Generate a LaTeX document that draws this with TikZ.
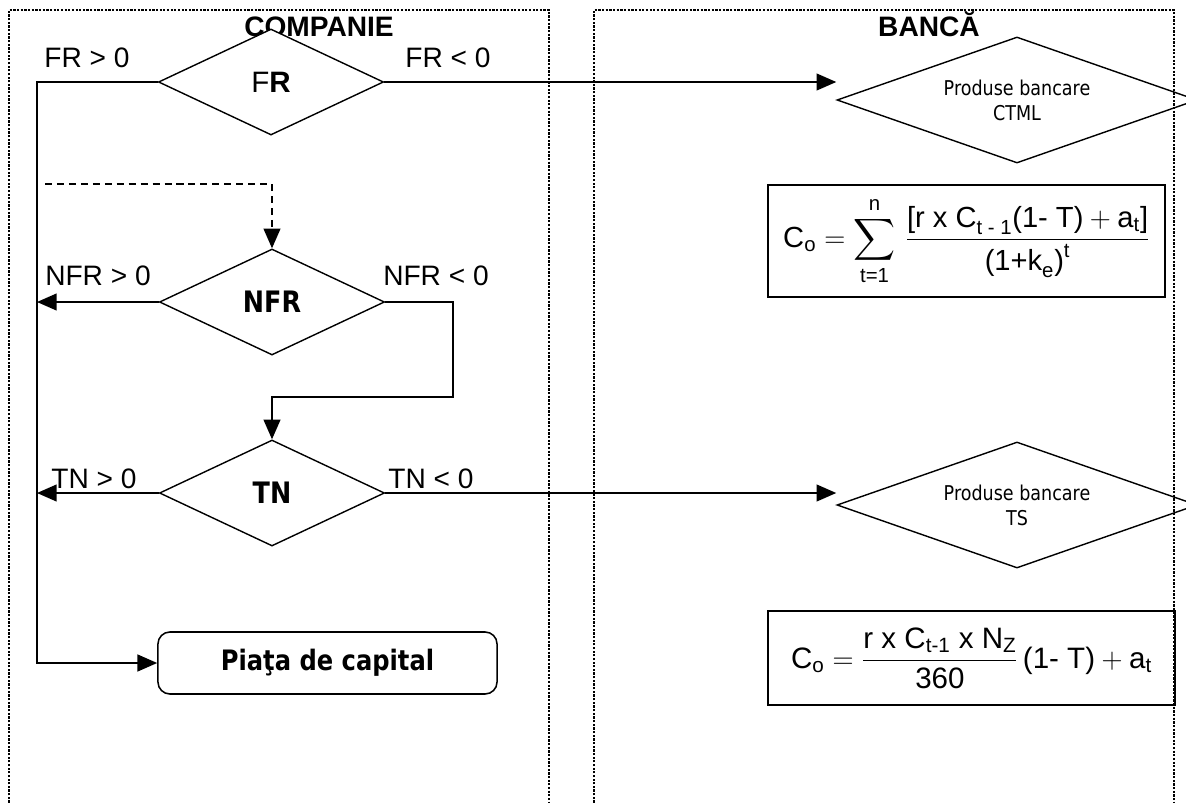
\documentclass[tikz,border=0pt]{standalone}
\usepackage{amsmath}
\usepackage{fontspec}
\setmainfont{Liberation Sans}
\setsansfont{Liberation Sans}
\newfontfamily\tahoma[FakeStretch=0.86]{DejaVu Sans}
\usetikzlibrary{shapes.geometric, arrows.meta, positioning}
\tikzset{
    lane/.style={draw=black, line width=0.8pt, dash pattern=on 1.6pt off 1pt},
    lanetitle/.style={anchor=base, font=\bfseries\fontsize{20}{24}\selectfont},
    condlabel/.style={anchor=base, font=\fontsize{20}{24}\selectfont},
    decision/.style={draw, diamond, aspect=2.12, fill=white, inner sep=0pt, line width=1pt, minimum width=5.625cm, minimum height=2.65cm, font=\tahoma\bfseries\fontsize{21}{25}\selectfont},
    bankdecision/.style={draw, diamond, aspect=2.86, inner sep=0pt, line width=1pt, minimum width=9cm, minimum height=3.15cm, align=center, font=\tahoma\fontsize{14.5}{17.8}\selectfont},
    market/.style={draw, rectangle, rounded corners=8.5pt, line width=1.1pt, minimum width=8.475cm, minimum height=1.55cm, font=\tahoma\bfseries\fontsize{20}{24}\selectfont},
    formula/.style={draw, rectangle, line width=1.4pt, inner sep=0pt},
    arrow/.style={->, >={Triangle[length=14pt, width=12pt]}, line width=1.1pt}
}

\begin{document}
\begin{tikzpicture}[x=0.025cm, y=-0.025cm]
        \clip (0,0) rectangle (1186,803);

        % Culoare
        \draw [lane] (9,810) -- (9,10) -- (549,10) -- (549,810);
        \draw [lane] (594,810) -- (594,10) -- (1174,10) -- (1174,810);
        \node (titlucomp) [lanetitle] at (319,36) {COMPANIE};
        \node (titlubanca) [lanetitle] at (929,36) {BANCĂ};

        % Decizii companie
        \node (fr) [decision, font=\fontsize{21}{25}\selectfont] at (271,82) {F\textbf{R}};
        \node (nfr) [decision] at (272,302) {NFR};
        \node (tn) [decision] at (272,493) {TN};
        \node (piata) [market] at (327.5,663) {Piaţa de capital};

        % Produse bancare si formule
        \node (ctml) [bankdecision] at (1017,100) {Produse bancare\\CTML};
        \node (ts) [bankdecision] at (1017,505) {Produse bancare\\TS};
        \node (formula1) [formula, minimum width=9.925cm, minimum height=2.8cm, font=\fontsize{20.7}{24}\selectfont] at (966.5,241)
            {$\displaystyle \text{C}_\text{o} = \sum_{\text{t=1}}^{\text{n}}\, \frac{\text{[r x C}_{\text{t - 1}}\text{(1- T)} + \text{a}_\text{t}\text{]}}{\text{(1+k}_\text{e}\text{)}^\text{t}}$};
        \node (formula2) [formula, minimum width=10.175cm, minimum height=2.35cm, font=\fontsize{21}{25}\selectfont] at (971.5,658)
            {$\displaystyle \text{C}_\text{o} = \frac{\text{r x C}_\text{t-1}\text{ x N}_\text{Z}}{\text{360}}\,\text{(1- T)} + \text{a}_\text{t}$};

        % Etichete ramuri
        \node (frpoz) [condlabel] at (87,67) {FR > 0};
        \node (frneg) [condlabel] at (448,67) {FR < 0};
        \node (nfrpoz) [condlabel] at (98,285) {NFR > 0};
        \node (nfrneg) [condlabel] at (436,285) {NFR < 0};
        \node (tnpoz) [condlabel] at (94,488) {TN > 0};
        \node (tnneg) [condlabel] at (431,488) {TN < 0};

        % Conexiuni
        \coordinate (bus) at (37,0);
        \coordinate (dashstart) at (45,184);
        \coordinate (elbow) at (453,397);
        \draw [arrow] (fr.west) -| (bus |- piata.west) -- (piata.west);
        \draw [arrow, dash pattern=on 5pt off 3.5pt] (dashstart) -| (nfr.north);
        \draw [arrow] (nfr.west) -- (nfr.west -| bus);
        \draw [arrow] (nfr.east) -| (elbow) -| (tn.north);
        \draw [arrow] (tn.west) -- (tn.west -| bus);
        \draw [arrow] (fr.east) -- (fr.east -| ctml.west);
        \draw [arrow] (tn.east) -- (tn.east -| ts.west);

    \end{tikzpicture}
\end{document}
